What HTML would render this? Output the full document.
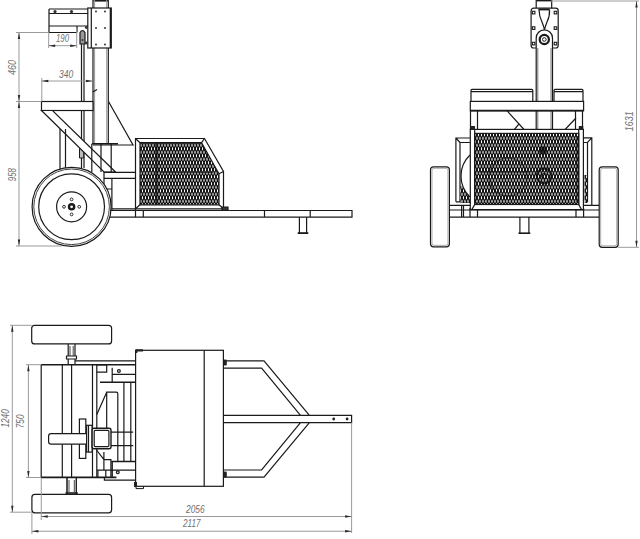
<!DOCTYPE html>
<html><head><meta charset="utf-8">
<style>
html,body{margin:0;padding:0;background:#fff;width:640px;height:539px;overflow:hidden}
svg{display:block}
.t{font-family:"Liberation Sans",sans-serif;font-style:italic;font-size:10px;fill:#707070}
</style></head><body>
<svg width="640" height="539" viewBox="0 0 640 539">
<defs>
<pattern id="mesh" width="3" height="7" patternUnits="userSpaceOnUse">
<rect width="3" height="7" fill="#111"/>
<ellipse cx="1.5" cy="1.75" rx="0.56" ry="1.65" fill="#fff"/>
<ellipse cx="0" cy="5.25" rx="0.56" ry="1.65" fill="#fff"/>
<ellipse cx="3" cy="5.25" rx="0.56" ry="1.65" fill="#fff"/>
</pattern>
</defs>
<g fill="none" stroke="#1a1a1a" stroke-width="1.2">
<!-- ===== LEFT SIDE VIEW ===== -->
<!-- tube -->
<path d="M93 0V144M108.3 0V144"/><path d="M93.5 0.6H108" stroke-width="2"/><path d="M94.6 0V8M106.7 0V8" stroke="#999" stroke-width="1"/><path d="M94.6 48V144M106.7 48V144" stroke="#999" stroke-width="1"/>
<!-- plate -->
<rect x="87.8" y="8" width="23.4" height="40" fill="#fff"/>
<path d="M91.3 8V48"/><path d="M110.6 8V48" stroke-width="1.8"/>
<!-- box on top -->
<path d="M49 9H88M49 9V32.5M49 13.5H88M49 26H88M49 32.5H77M77 26V32.5"/>
<!-- lever -->
<path d="M81.5 44V168M84 44V168"/><path d="M80 44V32.5Q82.5 28.5 85 32.5V44Z" fill="#999"/>
<path d="M79.5 158V148.5Q79.5 146.5 81.5 146.5H83.7V158Z" fill="#bbb" stroke-width="1"/>
<!-- shelf -->
<rect x="41.5" y="101.5" width="51.5" height="9" fill="#fff"/>
<!-- brace -->
<path d="M41.5 110.5L104 172H115.5L52.5 110.5Z" fill="#fff"/>
<!-- gusset -->
<path d="M108.5 101.5L133 145H93M93 92L97 89.5"/>
<!-- block below tube -->
<path d="M91.8 144V172M111.2 144V172M101 144V172"/><path d="M91.8 143.8H118" stroke-width="1.6"/>
<!-- wheel post -->
<path d="M60 129V170M65.5 129V168"/>
<!-- frame rails -->
<path d="M104 172.3H135.5M104 178.3H135.5M111.9 178V210M104 172V200M104 189H111.9M111.9 208.8H135.5"/>
<!-- hopper -->
<path d="M135.5 138.5H204.5L223.5 171.5V208.8H135.5Z"/>
<path d="M140 142.7H201.5L219 173.8V204.8H140Z" fill="url(#mesh)"/>
<path d="M156.5 143V204.5" stroke="#111" stroke-width="2.5" opacity="0.7"/><path d="M160 172.5H213" stroke="#111" stroke-width="1.2" opacity="0.6"/>
<path d="M135.5 138.5L140 142.7M204.5 138.5L201.5 142.7M223.5 171.5L219 173.8M223.5 208.8L219 204.8M135.5 208.8L140 204.8"/>
<!-- platform -->
<path d="M108 210.5H352V217.2H108M143.3 210.5V217.2M264.5 210.5V217.2M310.2 210.5V217.2M135.5 208.8V217.2"/>
<path d="M299.4 217.2V233M306.6 217.2V233M297.8 233.2H308.2" /><path d="M297.8 233.2H308.2" stroke-width="1.6"/>
<path d="M222 207V210.5H228V207Z" fill="#333"/>
<!-- wheel -->
<circle cx="71.6" cy="206.8" r="39.5" fill="#fff"/>
<circle cx="71.6" cy="206.8" r="37.8" stroke-width="1" stroke="#444"/>
<circle cx="71.6" cy="206.8" r="32.9"/>
<circle cx="71.6" cy="206.8" r="15"/>
<circle cx="71.6" cy="206.8" r="2.6" stroke-width="2.4"/>
<circle cx="71.6" cy="199.4" r="1.4" stroke-width="0.9"/><circle cx="71.6" cy="214.4" r="1.4" stroke-width="0.9"/>
<circle cx="64" cy="206.8" r="1.4" stroke-width="0.9"/><circle cx="79.2" cy="206.8" r="1.4" stroke-width="0.9"/>
</g>
<!-- plate dots -->
<g fill="#333">
<circle cx="96" cy="11.5" r="1"/><circle cx="105" cy="11.5" r="1"/>
<circle cx="96" cy="28" r="1"/><circle cx="105" cy="28" r="1"/>
<circle cx="96" cy="44.5" r="1"/><circle cx="105" cy="44.5" r="1"/>
<circle cx="55" cy="11.6" r="1.6"/><circle cx="71.5" cy="11.6" r="1.6"/><circle cx="82.5" cy="40" r="1"/>
<circle cx="86.3" cy="27.5" r="1.4"/><circle cx="86.3" cy="43" r="1.4"/>
</g>
<!-- dimensions left view -->
<g fill="none" stroke="#9a9a9a" stroke-width="1">
<path d="M19 32.5V246M16 32.5H49M16 101.5H41.5M16 246H62"/>
<path d="M48.7 32.5V48M76.7 28V48M48.7 45.7H76.7M41.8 78V101M41.8 81H92"/>
</g>
<text class="t" transform="translate(16 75) rotate(-90)" textLength="15" lengthAdjust="spacingAndGlyphs">460</text>
<text class="t" transform="translate(15.8 181.3) rotate(-90)" textLength="13.3" lengthAdjust="spacingAndGlyphs">958</text>
<text class="t" x="56" y="42" textLength="13" lengthAdjust="spacingAndGlyphs">190</text>
<text class="t" x="59" y="77.5" textLength="14.2" lengthAdjust="spacingAndGlyphs">340</text>

<!-- ===== FRONT VIEW ===== -->
<g fill="none" stroke="#1a1a1a" stroke-width="1.2">
<path d="M536.2 0V8.3M551.7 0V8.3"/>
<path d="M536.2 0.6H551.7" stroke-width="1.6"/>
<rect x="531.1" y="8.2" width="27.1" height="39.8" rx="2.5" fill="#fff"/>
<path d="M538.5 9.5H549.5" stroke-width="1.8"/>
<path d="M539 9.5Q539 16 542 22Q544 27 544.5 30Q545 27 547 22Q550 16 549.5 9.5"/>
<path d="M536.2 130V38A8.15 8.15 0 0 1 552.5 38V130" fill="#fff"/>
<path d="M537.8 48V130M551 48V130" stroke-width="0.6"/>
<circle cx="544.3" cy="39.5" r="4.6" stroke-width="2.2"/>
<circle cx="544.3" cy="39.5" r="1.8" stroke-width="1"/>
<g stroke-width="1.1">
<rect x="532.3" y="11.3" width="2.6" height="2.6"/><rect x="554.2" y="11.3" width="2.6" height="2.6"/>
<rect x="532.3" y="26.8" width="2.6" height="2.6"/><rect x="554.2" y="26.8" width="2.6" height="2.6"/>
<rect x="532.3" y="42.3" width="2.6" height="2.6"/><rect x="554.2" y="42.3" width="2.6" height="2.6"/>
</g>
<path d="M471 101.9V90.4Q471 89.4 472 89.4H531.8Q532.8 89.4 532.8 90.4V101.9M471 91.6H532.8"/>
<path d="M554 101.9V90.4Q554 89.4 555 89.4H582Q583 89.4 583 90.4V101.9M554 91.6H583"/>
<rect x="470.3" y="101.4" width="113.3" height="9.3" fill="#fff"/><path d="M470.3 110.7H583.6" stroke-width="1.7"/>
<path d="M470.5 110.7V130M477.5 110.7V130M575.5 110.7V130M582.5 110.7V130"/>
<path d="M507 110.7L524.5 130M514 130L519 123.8M576 118L564.6 130"/>
<!-- side boxes -->
<path d="M455.9 201.8V138H469.9M460 201.8V142.5H469.9M455.9 138L460 142.5M455.9 201.8H460"/>
<path d="M584.5 175V203H587.5V175Z" fill="url(#mesh)" stroke="none"/><path d="M583.6 137.9H591.8V205M587.5 142.5V202M583.6 142.5H587.5L591.8 137.9"/>
<path d="M460.5 185V203H470V195Z" fill="url(#mesh)" stroke="none"/>
<path d="M470 155A29 29 0 0 0 470 197" fill="#fff"/>
<!-- mesh box -->
<rect x="470.3" y="129.4" width="113.1" height="80.2" fill="#fff"/>
<rect x="474.7" y="133.4" width="104" height="71.1" fill="url(#mesh)"/>
<path d="M474.7 129.4V204.5L471.8 209.6M578.7 129.4V204.5L581.6 209.6"/>
<g stroke="#0a0a0a" opacity="0.75"><circle cx="544.1" cy="176" r="7.3" stroke-width="2.2"/><circle cx="544.1" cy="176" r="2.5"/>
<circle cx="543" cy="150.6" r="3.5" fill="#0a0a0a"/><circle cx="508" cy="177" r="19" stroke-width="1.4" opacity="0.6"/><path d="M480 172H530M577 136V202" /></g>
<!-- axle -->
<path d="M449.4 205.3H470M449.4 210H599.2M449.4 217.1H599.2M583.6 205.3H599.2"/>
<path d="M461.6 205.3V217.1M463.5 205.3V217.1M470 208V217.1M477.5 210V217.1M576 210V217.1M583.6 208V217.1"/>
<path d="M519.9 217.1V233M528.9 217.1V233"/><path d="M518.5 233.2H530.3" stroke-width="1.6"/>
<!-- wheels -->
<rect x="430.5" y="166.8" width="18.9" height="80" rx="3" fill="#fff"/>
<rect x="432" y="168.3" width="15.9" height="77" rx="2" stroke="#777" stroke-width="0.6"/>
<rect x="599.2" y="166.8" width="19" height="80.5" rx="3" fill="#fff"/>
<rect x="600.7" y="168.3" width="16" height="77.5" rx="2" stroke="#777" stroke-width="0.6"/>
</g>
<g fill="#222">
<rect x="470.5" y="126" width="4.5" height="4"/><rect x="578.8" y="126" width="4.5" height="4"/>
</g>
<g fill="none" stroke="#9a9a9a" stroke-width="1">
<path d="M551 1H639M636.5 1V247.3M618.2 247.3H639"/>
</g>
<text class="t" transform="translate(632.5 131.2) rotate(-90)" textLength="19.8" lengthAdjust="spacingAndGlyphs">1631</text>

<!-- ===== PLAN VIEW ===== -->
<g fill="none" stroke="#1a1a1a" stroke-width="1.2">
<rect x="31.7" y="325.3" width="79.9" height="18.6" rx="3"/>
<rect x="31.9" y="494.4" width="79.7" height="18.4" rx="3"/>
<path d="M68.2 344V364.7M75 344V364.7"/><path d="M70 346V356M73.2 346V356" stroke-width="0.8"/><path d="M66.5 356H76.5V359H66.5Z" fill="#fff"/>
<path d="M67 478V494.4M76.3 478V494.4M69 480V492M74.3 480V492" stroke-width="0.8"/><path d="M65.5 493H77.8" stroke-width="1.6"/><path d="M67 478V494.4M76.3 478V494.4"/>
<path d="M41.2 364.7V477.7M92.5 364.7V477.7"/><path d="M41.2 364.7H135.5" stroke-width="1.6"/>
<path d="M62.3 364.7V477.7M71.6 364.7V477.7M96.8 364.7V477.7"/>
<path d="M75 360.8H135.5M75 364.5H135.5" stroke-width="1.2"/>
<!-- plate + flange + tube -->
<rect x="79.4" y="419" width="6.4" height="39.4" fill="#fff"/>
<path d="M51 433.6H86.6V444.2H51Q48.6 444.2 48.6 441.8V436Q48.6 433.6 51 433.6Z" fill="#fff"/>
<rect x="86.6" y="425.3" width="5.5" height="26.8" fill="#fff"/>
<path d="M88.5 425.3V452.1"/>
<rect x="92.1" y="428.2" width="18.9" height="20.5" rx="2" fill="#fff" stroke-width="1.4"/>
<rect x="94.2" y="430.3" width="14.7" height="16.3" rx="1"/>
<!-- internal plan details -->
<path d="M96.8 365H106.7V372.2H96.8M112.2 367.8V382.2M112.2 374.4H135.5M123.9 382.2V461.6M130.8 382.2V461.6"/>
<path d="M100 382.2H135.5M111.3 461.6H135.5" stroke-width="1.5"/>
<path d="M106.7 428.9V392.2H116.3Q117.8 392.2 117.8 393.7V461.6M106.7 392.2L96.8 414.4"/>
<path d="M111 432.2H133.2M111 445.6H133.2M96.5 450L104 459.7H110.9V477.4M103.9 452V470.2M97 470.2H135.5M97.9 470.2V477.4M105.8 470.2V477.4M112.3 461.6V477.4M104.4 477.4V480.1H135.5"/>
<path d="M41 477.4H116.4" stroke-width="1.6"/>
<circle cx="118.9" cy="371" r="1.4"/>
<circle cx="117.8" cy="472.3" r="1.4"/>
<!-- hopper top view -->
<rect x="135.6" y="350.3" width="87.8" height="136" fill="#fff"/>
<path d="M204.2 350.3V486.3"/><path d="M136 486.3V488.6H143.5V486.3" stroke-width="1"/>
<!-- drawbar -->
<path d="M223.6 360.8H264L309.4 415.3M309.4 422.6L264 477.2H223.6M223.6 368.2H261.6L300.5 415.3M300.5 422.6L261.6 470H223.6M223.6 415.3H351.6V422.6H223.6"/>
</g>
<g fill="#222">
<path d="M135.6 349.3H143V351.5H137.4V353H135.6Z"/>
<path d="M134 482V487H137V482Z"/>
<rect x="223.6" y="359.5" width="3.2" height="6" rx="1.2"/>
<rect x="223.6" y="471.5" width="3.2" height="6" rx="1.2"/>
<circle cx="333.7" cy="419" r="1.4"/><circle cx="347.1" cy="419" r="1.4"/>
</g>
<g fill="none" stroke="#9a9a9a" stroke-width="1">
<path d="M12.3 325.3V512.2M10 325.3H31.7M10 512.2H31.9"/>
<path d="M28.4 364.7V477.5M26 364.7H41.2M26 477.5H41.2"/>
<path d="M41.25 478V520M31.9 512.8V534M351.6 422.6V533M41.25 516.5H351.6M31.9 531.25H351.6"/>
</g>
<text class="t" transform="translate(9.2 427.5) rotate(-90)" textLength="18.2" lengthAdjust="spacingAndGlyphs">1240</text>
<text class="t" transform="translate(24.3 428.2) rotate(-90)" textLength="13.7" lengthAdjust="spacingAndGlyphs">750</text>
<text class="t" x="186" y="513.2" textLength="18.6" lengthAdjust="spacingAndGlyphs">2056</text>
<text class="t" x="183" y="527" textLength="17.4" lengthAdjust="spacingAndGlyphs">2117</text>

<path fill="#2a2a2a" d="M19 32.5L17.8 39.0H20.2ZM19 101.5L17.8 95.0H20.2ZM19 101.5L17.8 108.0H20.2ZM19 246L17.8 239.5H20.2ZM48.7 45.7L55.2 44.5V46.900000000000006ZM76.7 45.7L70.2 44.5V46.900000000000006ZM41.8 81L48.3 79.8V82.2ZM92.5 81L86.0 79.8V82.2ZM636.5 1L635.3 7.5H637.7ZM636.5 247.3L635.3 240.8H637.7ZM12.3 325.3L11.100000000000001 331.8H13.5ZM12.3 512.2L11.100000000000001 505.70000000000005H13.5ZM28.4 364.7L27.2 371.2H29.599999999999998ZM28.4 477.5L27.2 471.0H29.599999999999998ZM41.25 516.5L47.75 515.3V517.7ZM351.6 516.5L345.1 515.3V517.7ZM31.9 531.25L38.4 530.05V532.45ZM351.6 531.25L345.1 530.05V532.45Z"/>
</svg>
</body></html>
